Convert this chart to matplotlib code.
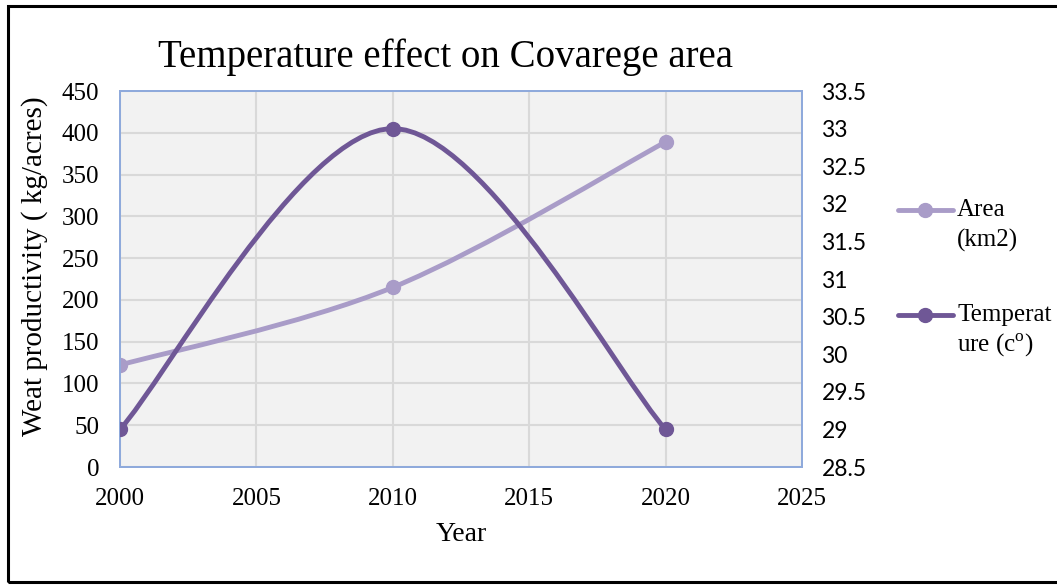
import matplotlib.pyplot as plt
import numpy as np
from matplotlib.path import Path
from matplotlib.patches import PathPatch, Rectangle
from matplotlib.lines import Line2D

plt.rcParams['font.family'] = ['Liberation Serif', 'DejaVu Serif']
plt.rcParams['mathtext.fontset'] = 'custom'
plt.rcParams['mathtext.rm'] = 'Liberation Serif'

years = [2000, 2010, 2020]
area = [122, 215, 389]
temperature = [29, 33, 29]

x_ticks = [2000, 2005, 2010, 2015, 2020, 2025]
left_ticks = [0, 50, 100, 150, 200, 250, 300, 350, 400, 450]
right_ticks = [28.5, 29, 29.5, 30, 30.5, 31, 31.5, 32, 32.5, 33, 33.5]

c_area = '#A99CC8'
c_temp = '#6F5796'
c_spine = '#8FAADC'


def smooth_path(xs, ys):
    # cubic bezier through the points, catmull-rom style control points
    pts = np.column_stack([xs, ys]).astype(float)
    n = len(pts)
    verts = [pts[0]]
    codes = [Path.MOVETO]
    for i in range(n - 1):
        p0 = pts[max(i - 1, 0)]
        p1 = pts[i]
        p2 = pts[i + 1]
        p3 = pts[min(i + 2, n - 1)]
        verts += [p1 + (p2 - p0) / 6, p2 - (p3 - p1) / 6, p2]
        codes += [Path.CURVE4] * 3
    return Path(verts, codes)


fig = plt.figure(figsize=(10.57, 5.88), dpi=100)
fig.patches.append(Rectangle((8 / 1057, 6 / 588), 1.1, 576 / 588, transform=fig.transFigure,
                             fill=False, edgecolor='black', linewidth=2.2))

ax = fig.add_axes([120 / 1057, 1 - 467 / 588, 682 / 1057, 376 / 588])
ax.set_facecolor('#F2F2F2')
ax.set_xlim(2000, 2025)
ax.set_ylim(0, 450)
ax.set_xticks(x_ticks)
ax.set_yticks(left_ticks)
ax.grid(True, color='#D9D9D9', linewidth=1.5)
ax.set_axisbelow(True)
ax.tick_params(axis='y', length=0, labelsize=18, pad=15)
ax.tick_params(axis='x', length=0, labelsize=18, pad=15)
for s in ax.spines.values():
    s.set_color(c_spine)
    s.set_linewidth(1.3)

ax2 = ax.twinx()
ax2.set_ylim(28.5, 33.5)
ax2.set_yticks(right_ticks)
ax2.set_yticklabels([f'{t:g}' for t in right_ticks], family=['Lato', 'DejaVu Sans'])
ax2.tick_params(length=0, labelsize=16.5, pad=14)
for s in ax2.spines.values():
    s.set_color(c_spine)
    s.set_linewidth(1.3)

ax.add_patch(PathPatch(smooth_path(years, area), fill=False, edgecolor=c_area,
                       linewidth=3.5, capstyle='round', zorder=3))
ax.plot(years, area, 'o', color=c_area, markersize=10, zorder=4)
ax2.add_patch(PathPatch(smooth_path(years, temperature), fill=False, edgecolor=c_temp,
                        linewidth=3.5, capstyle='round', zorder=3))
ax2.plot(years, temperature, 'o', color=c_temp, markersize=10, zorder=4)

ax.set_xlabel('Year', fontsize=20)
ax.xaxis.set_label_coords(0.5, -0.146)
ax.set_ylabel('Weat productivity ( kg/acres)', fontsize=21)
ax.yaxis.set_label_coords(-0.106, 0.535)
fig.text(446 / 1057, 1 - 57 / 588, 'Temperature effect on Covarege area',
         fontsize=28, ha='center', va='center')

# legend drawn by hand beside the plot
legend_items = [(c_area, 210, 'Area', '(km2)'),
                (c_temp, 315, 'Temperat', 'ure (c$^{\\mathrm{o}}$)')]
for color, yp, line1, line2 in legend_items:
    yf = 1 - yp / 588
    fig.lines.append(Line2D([898 / 1057, 953 / 1057], [yf, yf], transform=fig.transFigure,
                            color=color, linewidth=3.5, solid_capstyle='round'))
    fig.lines.append(Line2D([925 / 1057], [yf], transform=fig.transFigure, color=color,
                            marker='o', markersize=10))
    fig.text(957 / 1057, yf, line1, fontsize=18, va='center', ha='left')
    fig.text(957 / 1057, yf - 30 / 588, line2, fontsize=18, va='center', ha='left')

fig.savefig('out.png', dpi=100)
